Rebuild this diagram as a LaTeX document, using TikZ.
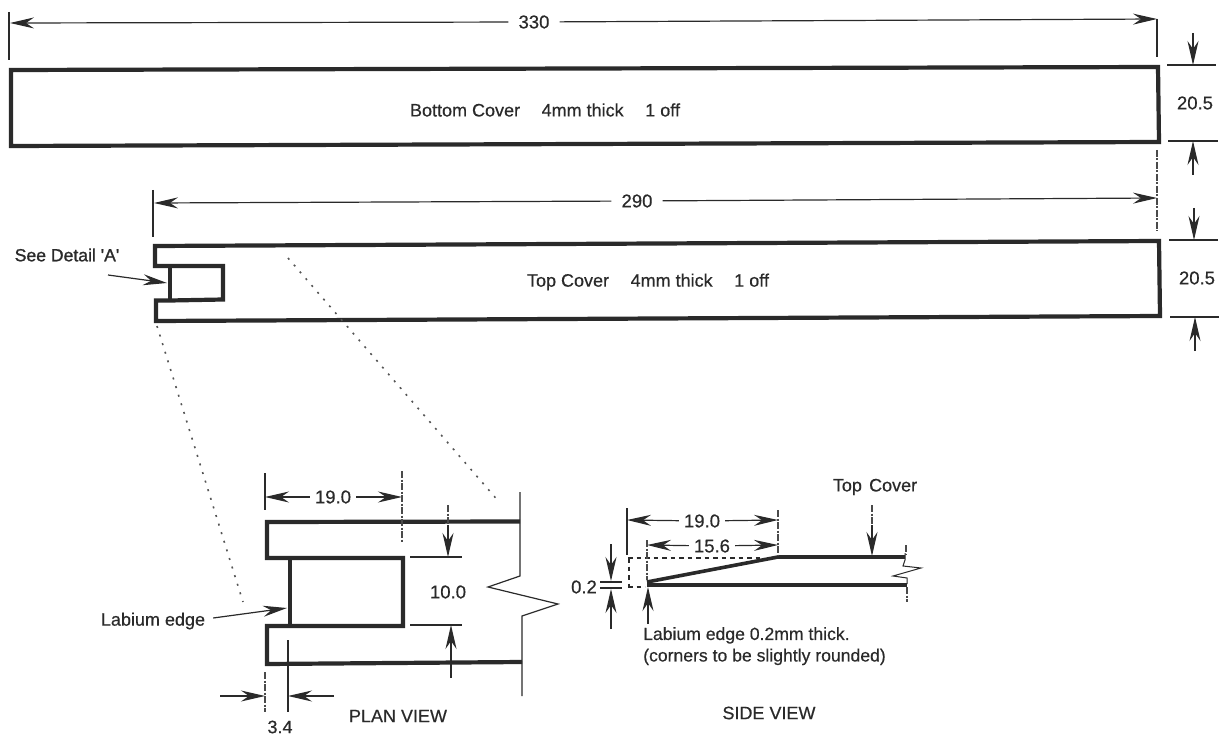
\documentclass[tikz,border=0pt]{standalone}
\usepackage{fontspec}
\setmainfont[FakeBold=0.5]{Liberation Sans}
\newfontfamily\boldish[FakeBold=1.2]{Liberation Sans}
\usetikzlibrary{arrows.meta}
\definecolor{ink}{HTML}{2A2A2A}
\tikzset{
  outline/.style={draw=ink,line width=4.2pt,line join=miter},
  thin line/.style={draw=ink,line width=1.2pt},
  dim/.style={draw=ink,line width=1.2pt,-{Stealth[length=24pt,width=11pt,inset=8pt]}},
  ext/.style={draw=ink,line width=1.1pt},
  extd/.style={draw=ink!85,line width=1.1pt,dash pattern=on 7pt off 1.5pt on 2pt off 1.5pt},
  dots/.style={draw=ink!80,line width=1.6pt,dash pattern=on 2pt off 7pt},
  short dash/.style={draw=ink,line width=1.8pt,dash pattern=on 4.5pt off 4pt},
  lbl/.style={text=ink,font=\fontsize{18}{21}\selectfont,inner sep=0pt},
  dimlbl/.style={text=ink,font=\fontsize{18.5}{21}\selectfont,inner sep=5pt},
}
\begin{document}
\begin{tikzpicture}[x=1pt,y=-1pt]
\useasboundingbox (0,0) rectangle (1221,735);
% Bottom cover
\coordinate (bc1) at (11,70); \coordinate (bc2) at (1158,67);
\coordinate (bc3) at (1159,142); \coordinate (bc4) at (11,146);
\draw[outline] (bc1) -- (bc2) -- (bc3) -- (bc4) -- cycle;
\node[lbl] (bctext) at (545,110) {Bottom Cover\hspace{1.2em}4mm thick\hspace{1.2em}1 off};
% 330
\node[dimlbl,inner sep=10pt] (d330) at (534,22) {330};
\coordinate (d330l) at (10,23); \coordinate (d330r) at (1157,19);
\draw[dim] (d330) -- (d330l);
\draw[dim] (d330) -- (d330r);
\draw[ext] (9,12) -- (9,60);
\draw[ext] (1157,19) -- (1157,57);
\draw[extd] (1157,150) -- (1157,231);
% 20.5 upper
\draw[ext] (1167,65) -- (1216,65);
\draw[ext] (1168,141) -- (1218,141);
\node[dimlbl] (h1) at (1195,103) {20.5};
\coordinate (h1a) at (1193,65); \coordinate (h1b) at (1193,141);
\draw[dim] (1193,33) -- (h1a);
\draw[dim] (1193,175) -- (h1b);
% Top cover
\coordinate (tc1) at (155,246);
\draw[outline] (tc1) -- (1159,241) -- (1160,316) -- (156,321) -- (156,300.5) -- (170,300.5) -- (223,299.5) -- (223,266) -- (170,266) -- (155,266) -- cycle;
\draw[outline] (170,266) -- (170,300.5);
\node[lbl] (tctext) at (648,282) {Top Cover\hspace{1.2em}4mm thick\hspace{1.2em}1 off};
% 290
\node[dimlbl,inner sep=10pt] (d290) at (637,201) {290};
\coordinate (d290l) at (154,203); \coordinate (d290r) at (1157,198);
\draw[dim] (d290) -- (d290l);
\draw[dim] (d290) -- (d290r);
\draw[ext] (153,190) -- (153,237);
% 20.5 lower
\draw[ext] (1169,240) -- (1218,240);
\draw[ext] (1170,317) -- (1219,317);
\node[dimlbl] (h2) at (1197,278) {20.5};
\coordinate (h2a) at (1194,240); \coordinate (h2b) at (1195,317);
\draw[dim] (1194,208) -- (h2a);
\draw[dim] (1195,351) -- (h2b);
% See detail
\node[lbl,font=\fontsize{17.6}{20}\boldish] (seeA) at (67,255) {See Detail 'A'};
\coordinate (seeAs) at (108,275); \coordinate (seeAt) at (167,283);
\draw[dim] (seeAs) -- (seeAt);
% Zoom dotted lines
\draw[dots] (157,326) -- (243,602);
\draw[dots] (288,258) -- (500,503);
% Plan view
\draw[outline] (520,521.5) -- (267,522) -- (267,558) -- (290,558) -- (403,558) -- (403,626) -- (290,626) -- (267,626) -- (267,664) -- (522,662);
\draw[outline] (290,558) -- (290,626);
\draw[thin line,line join=miter] (520,492) -- (520,576) -- (488,587) -- (558,604) -- (522,616) -- (522,696);
% plan 19.0
\node[dimlbl] (p19) at (333,497) {19.0};
\coordinate (p19l) at (265,497); \coordinate (p19r) at (402,497);
\draw[dim] (p19) -- (p19l);
\draw[dim] (p19) -- (p19r);
\draw[ext] (265,473) -- (265,510);
\draw[extd] (402,471) -- (402,543);
% plan 10.0
\node[dimlbl] (p10) at (448,592) {10.0};
\draw[ext] (410,557) -- (462,557);
\draw[ext] (410,625) -- (462,625);
\coordinate (p10a) at (448,557); \coordinate (p10b) at (451,625);
\draw[extd] (448,505) -- (448,525);
\draw[dim] (448,525) -- (p10a);
\draw[dim] (451,678) -- (p10b);
% plan 3.4
\node[lbl] (p34) at (280,727) {3.4};
\coordinate (p34l) at (265,696); \coordinate (p34r) at (288,696);
\draw[dim] (220,696) -- (p34l);
\draw[dim] (334,696) -- (p34r);
\draw[extd] (265,672) -- (265,712);
\draw[ext] (288,640) -- (288,712);
\node[lbl] (planv) at (398,716) {PLAN VIEW};
% Labium edge
\node[lbl] (lab) at (153,621) {Labium edge};
\coordinate (labt) at (287,608);
\draw[dim] (lab.east) ++(8,-3) -- (labt);
% Side view
\coordinate (s1) at (647,582); \coordinate (s2) at (778,557); \coordinate (s3) at (905,557);
\draw[draw=ink,line width=3.6pt] (s1) -- (s2) -- (s3);
\draw[draw=ink,line width=4pt] (647,585) -- (907,585);
\draw[short dash] (628,558) -- (762,558);
\draw[short dash] (629,558) -- (629,588);
\draw[short dash] (628,587) -- (645,587);
\draw[thin line,line width=1pt] (905,553) -- (905,560) -- (903,566) -- (921,568) -- (893,576) -- (907,578) -- (907,584);
\draw[extd] (906,545) -- (906,555);
\draw[extd] (907,587) -- (907,602);
% side 19.0
\node[dimlbl] (s19) at (702,521) {19.0};
\coordinate (s19l) at (627,520); \coordinate (s19r) at (778,520);
\draw[dim] (s19) -- (s19l);
\draw[dim] (s19) -- (s19r);
\draw[ext] (627,508) -- (627,555);
\draw[extd] (778,510) -- (778,556);
% side 15.6
\node[dimlbl] (s15) at (712,546) {15.6};
\coordinate (s15l) at (647,545); \coordinate (s15r) at (778,545);
\draw[dim] (s15) -- (s15l);
\draw[dim] (s15) -- (s15r);
\draw[extd] (647,540) -- (647,580);
% Top cover label
\node[lbl] (tcl) at (875,487) {Top\hspace{0.4em}Cover};
\coordinate (tct) at (872,556);
\draw[extd] (872,505) -- (872,525);
\draw[dim] (872,525) -- (tct);
% 0.2
\node[lbl,font=\fontsize{18.5}{21}\selectfont] (s02) at (584,587) {0.2};
\draw[ext] (600,582) -- (622,582);
\draw[ext] (600,588) -- (622,588);
\coordinate (s02a) at (611,581); \coordinate (s02b) at (611,589);
\draw[dim] (611,544) -- (s02a);
\draw[dim] (611,629) -- (s02b);
% Labium note
\coordinate (notet) at (648,587);
\draw[dim] (648,624) -- (notet);
\node[lbl,anchor=north west,align=left,font=\fontsize{17.6}{21.5}\selectfont] (note) at (643,627) {Labium edge 0.2mm thick.\\(corners to be slightly rounded)};
\node[lbl] (sidev) at (769,713) {SIDE VIEW};
\end{tikzpicture}
\end{document}
